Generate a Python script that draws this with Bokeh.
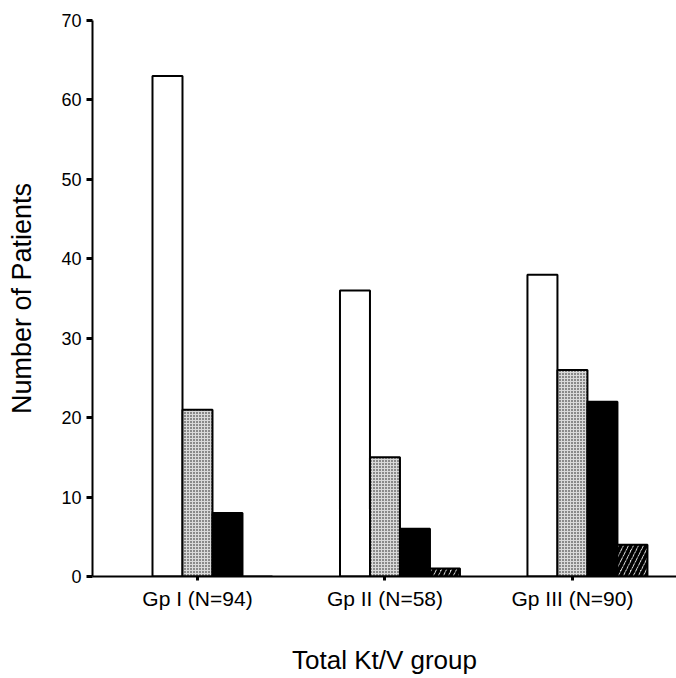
from bokeh.plotting import figure
from bokeh.models import ColumnDataSource, FixedTicker
from bokeh.embed import file_html
from bokeh.resources import INLINE

groups = ["Gp I (N=94)", "Gp II (N=58)", "Gp III (N=90)"]
series_a = [63, 36, 38]   # white
series_b = [21, 15, 26]   # stippled
series_c = [8, 6, 22]     # black
series_d = [0, 1, 4]      # hatched
y_ticks = [0, 10, 20, 30, 40, 50, 60, 70]

pos = [1, 2, 3]
w = 0.16
FONT = "Liberation Sans"

p = figure(width=676, height=678, x_range=(0.44, 3.555), y_range=(0, 70),
           output_backend="svg", toolbar_location=None,
           min_border_left=92, min_border_right=0, min_border_top=20, min_border_bottom=102)
p.outline_line_color = None
p.xgrid.visible = False
p.ygrid.visible = False

def xs(off):
    return [x + off for x in pos]

src_a = ColumnDataSource(dict(x=xs(-w), top=series_a))
src_b = ColumnDataSource(dict(x=xs(0), top=series_b))
src_c = ColumnDataSource(dict(x=xs(w), top=series_c))
src_d = ColumnDataSource(dict(x=xs(2 * w), top=series_d))

p.vbar(x="x", top="top", bottom=0, width=w, source=src_a,
       fill_color="white", line_color="black", line_width=2)
p.vbar(x="x", top="top", bottom=0, width=w, source=src_b,
       fill_color="#d9d9d9", hatch_pattern="dot", hatch_scale=3, hatch_weight=1.8,
       hatch_color="#111111", line_color="black", line_width=2)
p.vbar(x="x", top="top", bottom=0, width=w, source=src_c,
       fill_color="black", line_color="black", line_width=2)
p.vbar(x="x", top="top", bottom=0, width=w, source=src_d,
       fill_color="#d9d9d9", hatch_pattern="dot", hatch_scale=3, hatch_weight=1.8,
       hatch_color="#111111", line_color=None)
p.vbar(x="x", top="top", bottom=0, width=w, source=src_d,
       fill_alpha=0, hatch_pattern="right_diagonal_line", hatch_scale=10, hatch_weight=3.5,
       hatch_color="black", line_color="black", line_width=2)

# x axis
p.xaxis.ticker = FixedTicker(ticks=pos)
p.xaxis.major_label_overrides = {i + 1: g for i, g in enumerate(groups)}
p.xaxis.axis_line_width = 2
p.xaxis.major_tick_line_width = 3
p.xaxis.major_tick_out = 4
p.xaxis.major_tick_in = 0
p.xaxis.minor_tick_line_color = None
p.xaxis.major_label_standoff = 6
p.xaxis.major_label_text_font = FONT
p.xaxis.major_label_text_font_size = "21px"
p.xaxis.major_label_text_color = "black"
p.xaxis.axis_label = "Total Kt/V group"
p.xaxis.axis_label_text_font = FONT
p.xaxis.axis_label_text_font_size = "26px"
p.xaxis.axis_label_text_font_style = "normal"
p.xaxis.axis_label_text_color = "black"
p.xaxis.axis_label_standoff = 32

# y axis
p.yaxis.ticker = FixedTicker(ticks=y_ticks)
p.yaxis.axis_line_width = 2
p.yaxis.major_tick_line_width = 3
p.yaxis.major_tick_out = 6
p.yaxis.major_tick_in = 0
p.yaxis.minor_tick_line_color = None
p.yaxis.major_label_standoff = 5
p.yaxis.major_label_text_font = FONT
p.yaxis.major_label_text_font_size = "18px"
p.yaxis.major_label_text_color = "black"
p.yaxis.axis_label = "Number of Patients"
p.yaxis.axis_label_text_font = FONT
p.yaxis.axis_label_text_font_size = "27px"
p.yaxis.axis_label_text_font_style = "normal"
p.yaxis.axis_label_text_color = "black"
p.yaxis.axis_label_standoff = 21

open("out.html", "w").write(file_html(p, INLINE))
